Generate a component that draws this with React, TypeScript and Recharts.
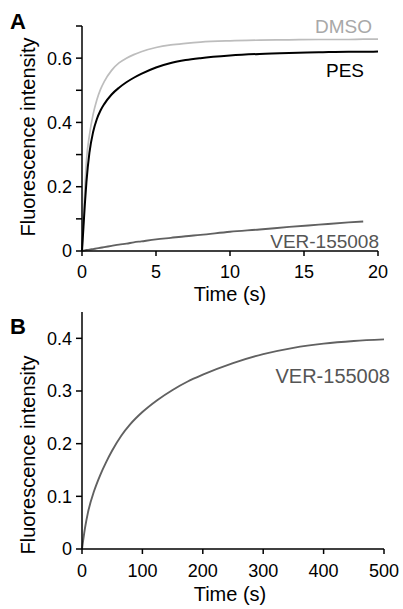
import { LineChart, Line, XAxis, YAxis } from 'recharts';

const FONT = '"Liberation Sans", Arial, sans-serif';

// panel A: fast binding, 0-20 s
const timeA = [0, 0.1, 0.2, 0.3, 0.5, 0.75, 1, 1.25, 1.5, 2, 2.5, 3, 3.5, 4, 5, 6, 7, 8, 10, 12, 14, 16, 18, 19, 20];
const dmsoA = [0, 0.1, 0.2, 0.28, 0.36, 0.425, 0.47, 0.503, 0.527, 0.562, 0.585, 0.6, 0.611, 0.62, 0.633, 0.641, 0.646, 0.65, 0.654, 0.656, 0.657, 0.658, 0.658, 0.659, 0.659];
const pesA = [0, 0.075, 0.15, 0.215, 0.305, 0.37, 0.41, 0.437, 0.457, 0.487, 0.508, 0.525, 0.539, 0.551, 0.571, 0.585, 0.594, 0.6, 0.608, 0.613, 0.616, 0.618, 0.62, 0.62, 0.621];
const verA = [0, 0.001, 0.002, 0.003, 0.004, 0.006, 0.008, 0.01, 0.012, 0.016, 0.02, 0.023, 0.027, 0.03, 0.036, 0.041, 0.046, 0.05, 0.06, 0.067, 0.075, 0.082, 0.089, 0.092, null];
const xTicksA = [0, 5, 10, 15, 20];
const yTicksA = [0, 0.1, 0.2, 0.3, 0.4, 0.5, 0.6, 0.7];

// panel B: VER-155008, 0-500 s
const timeB = [0, 5, 10, 20, 30, 40, 50, 65, 80, 100, 125, 150, 175, 200, 250, 300, 350, 400, 450, 500];
const verB = [0, 0.04, 0.07, 0.11, 0.14, 0.165, 0.187, 0.215, 0.237, 0.26, 0.283, 0.302, 0.318, 0.331, 0.353, 0.37, 0.382, 0.39, 0.395, 0.398];
const xTicksB = [0, 100, 200, 300, 400, 500];
const yTicksB = [0, 0.1, 0.2, 0.3, 0.4];

const rowsA = timeA.map((t, i) => ({ t, dmso: dmsoA[i], pes: pesA[i], ver: verA[i] }));
const rowsB = timeB.map((t, i) => ({ t, ver: verB[i] }));

const tickStyle = { fontSize: 18, fill: '#000', fontFamily: FONT };
const axisStyle = { stroke: '#000', strokeWidth: 1.5 };

const evenOnly = (v: number) => (Math.round(v * 10) % 2 === 0 ? String(v) : '');

const App = () => {
  return (
    <div style={{ position: 'absolute', left: 0, top: 0, width: 403, height: 609, background: '#fff' }}>
      <div style={{ position: 'absolute', left: 0, top: 0 }}>
        <LineChart width={403} height={310} data={rowsA} margin={{ top: 26, right: 25, left: 0, bottom: 0 }}>
          <XAxis
            dataKey="t"
            type="number"
            domain={[0, 20]}
            ticks={xTicksA}
            interval={0}
            height={59}
            tick={tickStyle}
            tickSize={5}
            tickMargin={9}
            axisLine={axisStyle}
            tickLine={axisStyle}
          />
          <YAxis
            type="number"
            domain={[0, 0.7]}
            ticks={yTicksA}
            interval={0}
            width={82}
            tick={tickStyle}
            tickFormatter={evenOnly}
            tickSize={6}
            tickMargin={4}
            axisLine={axisStyle}
            tickLine={axisStyle}
          />
          <Line dataKey="dmso" type="monotone" stroke="#bdbdbd" strokeWidth={1.7} dot={false} isAnimationActive={false} />
          <Line dataKey="pes" type="monotone" stroke="#000" strokeWidth={2} dot={false} isAnimationActive={false} />
          <Line dataKey="ver" type="monotone" stroke="#616161" strokeWidth={1.9} dot={false} isAnimationActive={false} />
          <text x={10} y={29} fontSize={22} fontWeight="bold" fontFamily={FONT}>A</text>
          <text x={372} y={33} fontSize={19} fill="#a8a8a8" textAnchor="end" fontFamily={FONT}>DMSO</text>
          <text x={364} y={77} fontSize={19} fill="#000" textAnchor="end" fontFamily={FONT}>PES</text>
          <text x={379} y={248} fontSize={19} fill="#555" textAnchor="end" fontFamily={FONT}>VER-155008</text>
          <text x={35} y={137} fontSize={20} textAnchor="middle" transform="rotate(-90 35 137)" fontFamily={FONT}>Fluorescence intensity</text>
          <text x={230} y={301} fontSize={20} textAnchor="middle" fontFamily={FONT}>Time (s)</text>
        </LineChart>
      </div>
      <div style={{ position: 'absolute', left: 0, top: 310 }}>
        <LineChart width={403} height={299} data={rowsB} margin={{ top: 2, right: 19, left: 0, bottom: 0 }}>
          <XAxis
            dataKey="t"
            type="number"
            domain={[0, 500]}
            ticks={xTicksB}
            interval={0}
            height={60}
            tick={tickStyle}
            tickSize={5}
            tickMargin={10}
            axisLine={axisStyle}
            tickLine={axisStyle}
          />
          <YAxis
            type="number"
            domain={[0, 0.45]}
            ticks={yTicksB}
            interval={0}
            width={82}
            tick={tickStyle}
            tickSize={6}
            tickMargin={4}
            axisLine={axisStyle}
            tickLine={axisStyle}
          />
          <Line dataKey="ver" type="monotone" stroke="#616161" strokeWidth={1.9} dot={false} isAnimationActive={false} />
          <text x={10} y={24} fontSize={22} fontWeight="bold" fontFamily={FONT}>B</text>
          <text x={390} y={73} fontSize={20} fill="#555" textAnchor="end" fontFamily={FONT}>VER-155008</text>
          <text x={35} y={145} fontSize={20} textAnchor="middle" transform="rotate(-90 35 145)" fontFamily={FONT}>Fluorescence intensity</text>
          <text x={230} y={291} fontSize={20} textAnchor="middle" fontFamily={FONT}>Time (s)</text>
        </LineChart>
      </div>
    </div>
  );
};

export default App;
